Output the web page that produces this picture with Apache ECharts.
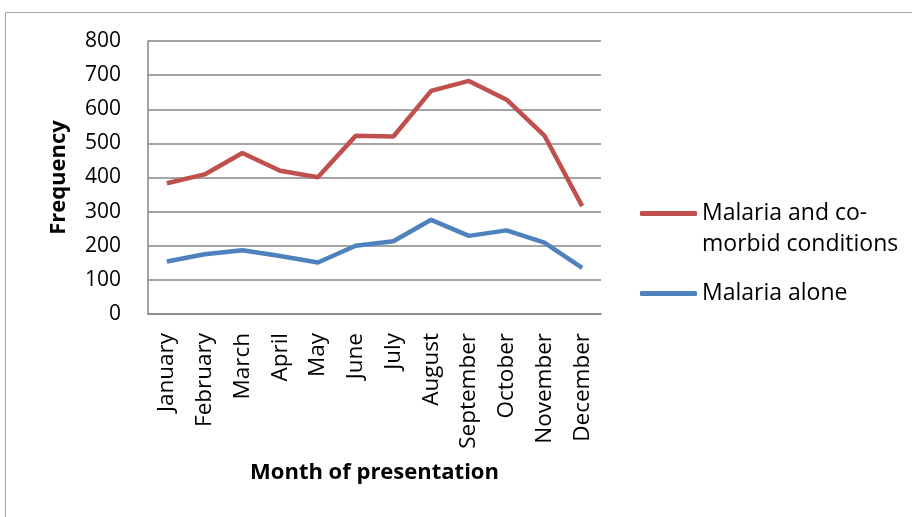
<!DOCTYPE html>
<html>
<head>
<meta charset="utf-8">
<script src="https://cdn.jsdelivr.net/npm/echarts@6/dist/echarts.min.js"></script>
<style>
	html, body { margin: 0; padding: 0; background: #fff; }
	#chart { width: 912px; height: 517px; }
</style>
</head>
<body>
<div id="chart"></div>
<script>
	var months = ['January', 'February', 'March', 'April', 'May', 'June',
		'July', 'August', 'September', 'October', 'November', 'December'];
	var comorbid = [383, 409, 472, 420, 401, 522, 520, 654, 683, 628, 523, 316];
	var aloneOnly = [154, 175, 187, 170, 151, 200, 213, 276, 229, 245, 209, 135];
	var yTicks = { min: 0, max: 800, interval: 100 };

	var font = '"Open Sans", "Noto Sans", sans-serif';
	var redColor = '#C0504D';
	var blueColor = '#4F81BD';

	var myChart = echarts.init(document.getElementById('chart'));
	myChart.setOption({
		backgroundColor: '#fff',
		animation: false,
		graphic: [{
			type: 'rect',
			shape: { x: 5.5, y: 12.5, width: 1000, height: 600 },
			style: { fill: 'none', stroke: '#a6a6a6', lineWidth: 1 },
			silent: true
		}],
		grid: { left: 148, top: 41, right: 311, bottom: 203 },
		legend: {
			orient: 'vertical',
			left: 635,
			top: 162,
			itemWidth: 57,
			itemHeight: 5,
			itemGap: 18,
			icon: 'roundRect',
			textStyle: { fontFamily: font, fontSize: 23, color: '#000', lineHeight: 31 },
			formatter: function (name) {
				// empty first line keeps the icon level with the first text line
				return name === 'Malaria and co-morbid conditions' ? ' \nMalaria and co-\nmorbid conditions' : name;
			},
			data: ['Malaria and co-morbid conditions', 'Malaria alone']
		},
		xAxis: {
			type: 'category',
			data: months,
			boundaryGap: true,
			name: 'Month of presentation',
			nameLocation: 'middle',
			nameGap: 148,
			nameTextStyle: { fontFamily: font, fontSize: 22, fontWeight: 'bold', color: '#000' },
			axisLine: { lineStyle: { color: '#868686', width: 1.5 } },
			axisTick: { show: false },
			axisLabel: { rotate: 90, margin: 19, fontFamily: font, fontSize: 22.5, color: '#000', interval: 0 },
			splitLine: { show: false }
		},
		yAxis: {
			type: 'value',
			min: yTicks.min,
			max: yTicks.max,
			interval: yTicks.interval,
			name: 'Frequency',
			nameLocation: 'middle',
			nameGap: 78,
			nameRotate: 90,
			nameTextStyle: { fontFamily: font, fontSize: 22, fontWeight: 'bold', color: '#000' },
			axisLine: { show: true, lineStyle: { color: '#868686', width: 1.5 } },
			axisTick: { show: false },
			axisLabel: { margin: 27, fontFamily: font, fontSize: 21, color: '#000' },
			splitLine: { lineStyle: { color: '#868686', width: 1.5 } }
		},
		series: [
			{
				name: 'Malaria and co-morbid conditions',
				type: 'line',
				data: comorbid,
				symbol: 'none',
				color: redColor,
				lineStyle: { color: redColor, width: 4.5 }
			},
			{
				name: 'Malaria alone',
				type: 'line',
				data: aloneOnly,
				symbol: 'none',
				color: blueColor,
				lineStyle: { color: blueColor, width: 4.5 }
			}
		]
	});
</script>
</body>
</html>
